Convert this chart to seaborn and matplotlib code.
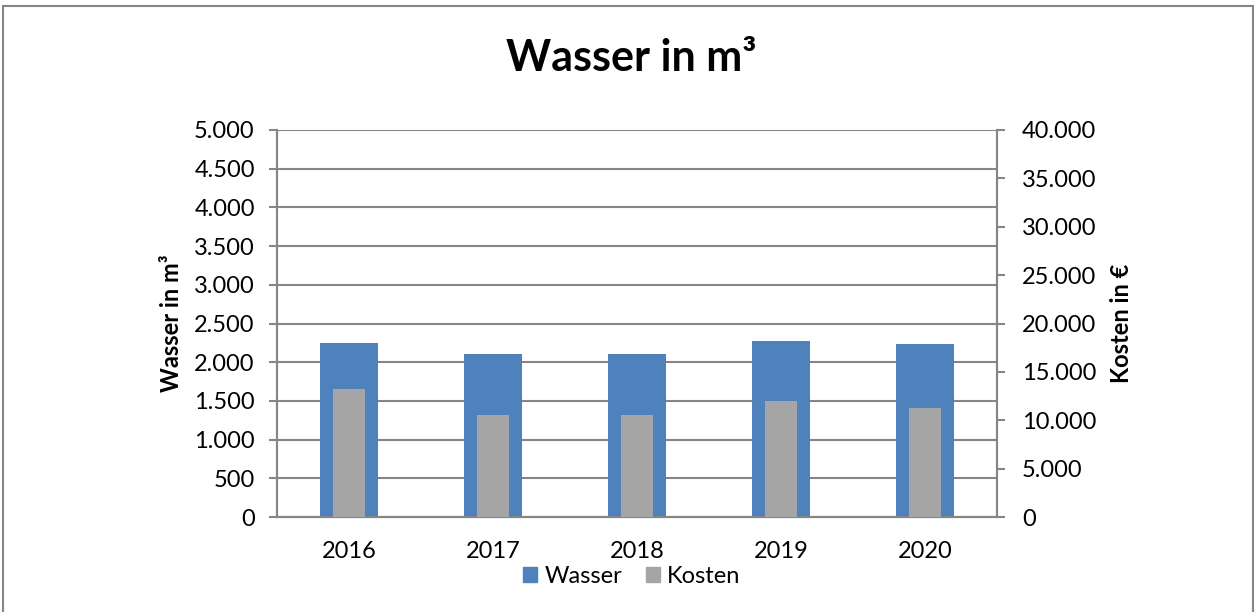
import matplotlib
matplotlib.use("Agg")
import matplotlib.pyplot as plt
from matplotlib.patches import Rectangle, Patch
from matplotlib.ticker import FuncFormatter, MultipleLocator
import seaborn as sns
import pandas as pd

# Daten
jahre = ["2016", "2017", "2018", "2019", "2020"]
wasser = [2250, 2105, 2105, 2270, 2235]
kosten = [13200, 10550, 10550, 12000, 11300]

sns.set_style("white")
plt.rcParams['font.family'] = ['Lato', 'DejaVu Sans']
plt.rcParams['text.color'] = 'black'
plt.rcParams['xtick.color'] = 'black'
plt.rcParams['ytick.color'] = 'black'
plt.rcParams['axes.labelcolor'] = 'black'

farbe_wasser = "#4F81BD"
farbe_kosten = "#A5A5A5"
grau = "#868686"

def tausender(v, pos):
    return f"{v:,.0f}".replace(",", ".")

fig = plt.figure(figsize=(12.58, 6.12), dpi=100)
ax = fig.add_axes([0.2202, 0.1552, 0.5723, 0.6324])

df = pd.DataFrame({"Jahr": jahre, "Wasser": wasser, "Kosten": kosten})

sns.barplot(data=df, x="Jahr", y="Wasser", color=farbe_wasser, width=0.4,
            saturation=1, linewidth=0, ax=ax, zorder=2)
ax.set_ylim(0, 5000)
ax.yaxis.set_major_locator(MultipleLocator(500))
ax.yaxis.set_major_formatter(FuncFormatter(tausender))
ax.grid(axis="y", color=grau, lw=1.5)
ax.set_axisbelow(True)

ax2 = ax.twinx()
sns.barplot(data=df, x="Jahr", y="Kosten", color=farbe_kosten, width=0.22,
            saturation=1, linewidth=0, ax=ax2, zorder=3)
ax2.set_ylim(0, 40000)
ax2.yaxis.set_major_locator(MultipleLocator(5000))
ax2.yaxis.set_major_formatter(FuncFormatter(tausender))

ax.set_xlim(-0.5, len(jahre) - 0.5)
ax.set_xlabel("")
ax.set_ylabel("Wasser in m³", fontsize=17, fontweight="bold", labelpad=8)
ax2.set_ylabel("Kosten in €", fontsize=17, fontweight="bold", labelpad=10)

# x-Ticks an den Kategoriegrenzen
ax.set_xticks(range(len(jahre)))
ax.set_xticklabels(jahre)
ax.set_xticks([i - 0.5 for i in range(len(jahre) + 1)], minor=True)
ax.tick_params(axis="x", which="major", length=0, labelsize=17, pad=17)
ax.tick_params(axis="x", which="minor", length=6, width=1.5, color=grau, direction="out")
ax.tick_params(axis="y", length=6, width=1.5, color=grau, labelsize=17, direction="out", pad=10)
ax2.tick_params(axis="y", length=6, width=1.5, color=grau, labelsize=17, direction="out", pad=12)
ax2.set_xlabel("")

for a in (ax, ax2):
    a.spines["top"].set_visible(False)
    for s in ("left", "right", "bottom"):
        a.spines[s].set_color(grau)
        a.spines[s].set_linewidth(1.5)

fig.text(0.502, 0.905, "Wasser in m³", ha="center", va="center",
         fontsize=31, fontweight="bold")

handles = [Patch(color=farbe_wasser, label="Wasser"),
           Patch(color=farbe_kosten, label="Kosten")]
fig.legend(handles=handles, loc="center", bbox_to_anchor=(0.502, 0.058), ncol=2,
           frameon=False, fontsize=17, handlelength=0.6, handleheight=0.6,
           handletextpad=0.3, columnspacing=1.0)

fig.add_artist(Rectangle((3 / 1258, -0.01), 1250 / 1258, 0.9995, transform=fig.transFigure,
                         fill=False, edgecolor=grau, lw=1.5))

fig.savefig("out.png", dpi=100)
